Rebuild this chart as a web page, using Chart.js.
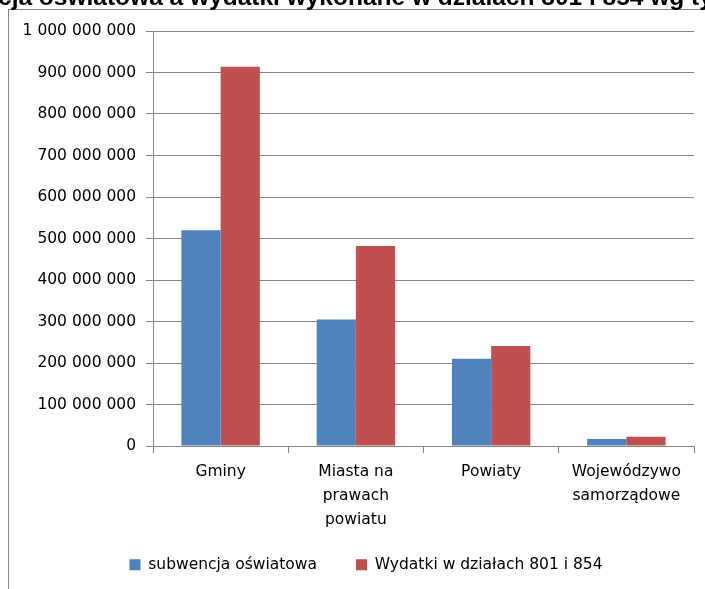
<!DOCTYPE html>
<html>
<head>
<meta charset="utf-8">
<script src="https://cdn.jsdelivr.net/npm/chart.js@4"></script>
<style>
  html, body { margin: 0; padding: 0; background: #fff; overflow: hidden; }
  #frame {
    position: absolute; left: 8px; top: 9px; width: 900px; height: 800px;
    border: 1px solid #868686;
  }
  #wrap { position: absolute; left: 0; top: 0; width: 705px; height: 589px; }
</style>
</head>
<body>
<div id="frame"></div>
<div id="wrap"><canvas id="chart" width="705" height="589"></canvas></div>
<script>
// dane z wykresu
const kategorie = ["Gminy", ["Miasta na", "prawach", "powiatu"], "Powiaty", ["Wojewódzywo", "samorządowe"]];
const subwencja = [520000000, 305000000, 210000000, 17000000];
const wydatki = [914000000, 482000000, 241000000, 22000000];
const yTickLabels = ["0", "100 000 000", "200 000 000", "300 000 000", "400 000 000", "500 000 000",
                     "600 000 000", "700 000 000", "800 000 000", "900 000 000", "1 000 000 000"];
const tytul = "Subwencja oświatowa a wydatki wykonane w działach 801 i 854 wg typów JST";

const FONT = "'DejaVu Sans', sans-serif";
const GRID = "#868686";

// tytuł (ucięty u góry, tak jak na obrazku)
const titlePlugin = {
    id: "titleCut",
    afterDraw(chart) {
        const ctx = chart.ctx;
        ctx.save();
        ctx.font = "bold 24.5px 'Liberation Sans', Arial, sans-serif";
        ctx.fillStyle = "#000";
        ctx.textBaseline = "alphabetic";
        const off = ctx.measureText("Subwen").width;
        ctx.fillText(tytul, -off - 2, 5);
        ctx.restore();
    }
};

// legenda: odstęp między pozycjami większy niż odstęp pionowy
const legendFix = {
    id: "legendFix",
    afterInit(chart) {
        const lg = chart.legend;
        const fit = lg.fit;
        lg.fit = function () {
            fit.call(this);
            this.height = 43;
        };
    },
    afterLayout(chart) {
        const lg = chart.legend;
        lg.top -= 28;
        lg.left += 19;
        lg.right += 19;
    }
};

new Chart(document.getElementById("chart"), {
    type: "bar",
    data: {
        labels: kategorie,
        datasets: [
            {
                label: "subwencja oświatowa",
                data: subwencja,
                backgroundColor: "#4F81BD"
            },
            {
                label: "Wydatki w działach 801 i 854",
                data: wydatki,
                backgroundColor: "#C0504D"
            }
        ]
    },
    options: {
        responsive: false,
        animation: false,
        layout: { padding: { left: 0, top: 31, right: 11, bottom: 0 } },
        datasets: {
            bar: { categoryPercentage: 0.58, barPercentage: 1 }
        },
        scales: {
            x: {
                afterFit: (s) => { s.height = 100; },
                grid: { drawOnChartArea: false, drawTicks: true, tickLength: 7, color: GRID, offset: true },
                border: { color: GRID },
                ticks: {
                    color: "#000", padding: 7, maxRotation: 0, autoSkip: false,
                    font: { family: FONT, size: 15.5, lineHeight: 1.55 }
                }
            },
            y: {
                min: 0,
                max: 1000000000,
                afterFit: (s) => { s.width = 153; },
                grid: { color: GRID, tickLength: 7 },
                border: { color: GRID },
                ticks: {
                    stepSize: 100000000,
                    color: "#000", padding: 10,
                    font: { family: FONT, size: 15.5 },
                    callback: (v, i) => yTickLabels[i]
                }
            }
        },
        plugins: {
            legend: {
                position: "bottom",
                labels: {
                    color: "#000",
                    boxWidth: 11, boxHeight: 11, padding: 39,
                    font: { family: FONT, size: 15.5 }
                }
            },
            tooltip: { enabled: false }
        }
    },
    plugins: [titlePlugin, legendFix]
});
</script>
</body>
</html>
